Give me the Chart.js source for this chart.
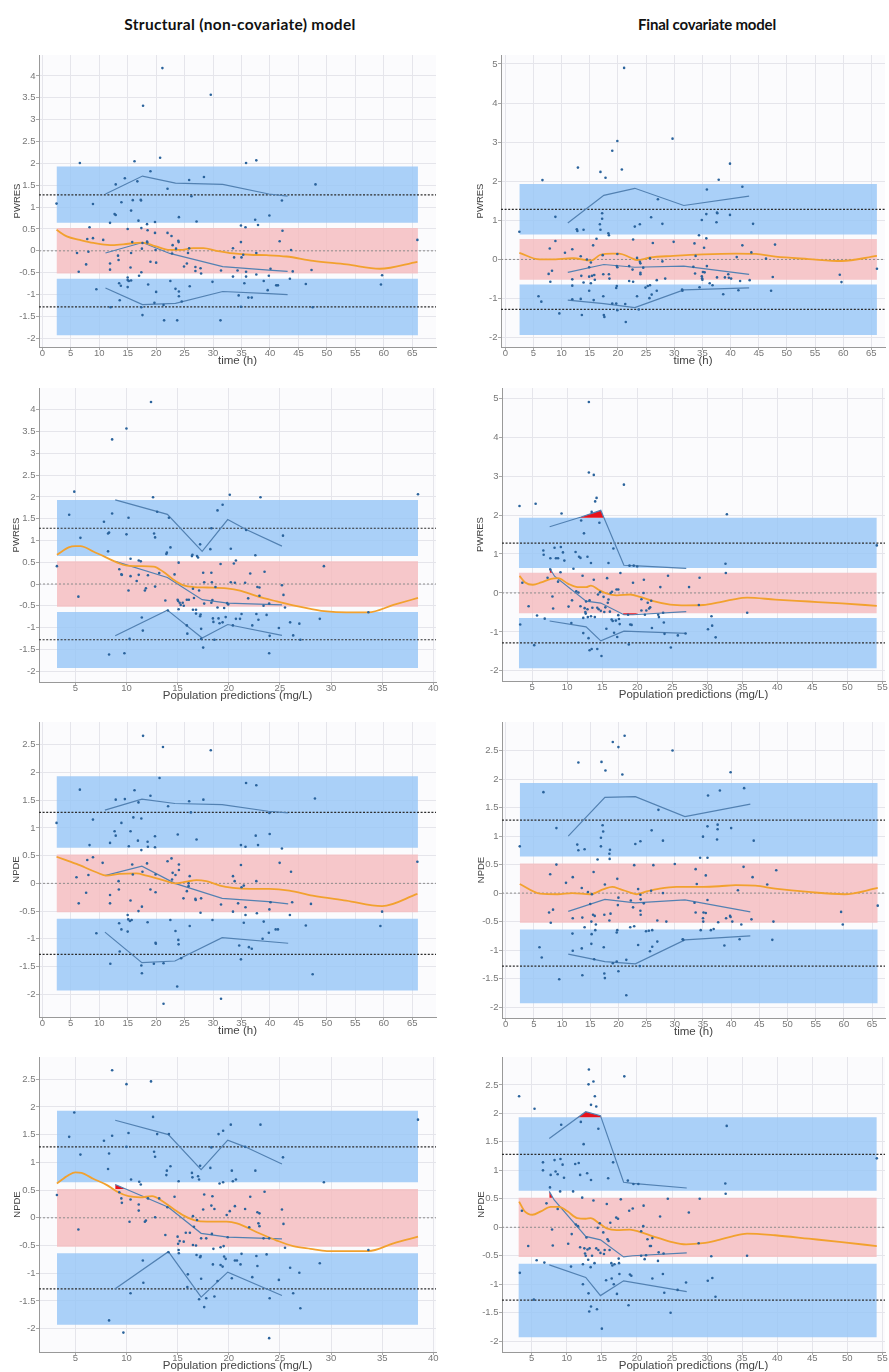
<!DOCTYPE html>
<html><head><meta charset="utf-8">
<script src="https://cdn.jsdelivr.net/npm/chart.js@4.4.1/dist/chart.umd.min.js"></script>
<style>
html,body{margin:0;padding:0;background:#fff;width:889px;height:1372px;overflow:hidden;position:relative;}
.head{position:absolute;top:15px;line-height:18px;font-family:Lato,'Open Sans',sans-serif;font-weight:700;color:#111;transform:translateX(-50%);white-space:nowrap;}
canvas{position:absolute;}
</style></head><body>
<div class="head" style="left:240px;font-size:15.5px;letter-spacing:0.3px">Structural (non-covariate) model</div>
<div class="head" style="left:707px;font-size:15px;letter-spacing:-0.2px">Final covariate model</div>
<canvas id="c1"></canvas><canvas id="c2"></canvas><canvas id="c3"></canvas><canvas id="c4"></canvas>
<canvas id="c5"></canvas><canvas id="c6"></canvas><canvas id="c7"></canvas><canvas id="c8"></canvas>
<script>
// ---------- tick labels ----------
const timeTicks = [0,5,10,15,20,25,30,35,40,45,50,55,60,65];
const predTicksLeft = [5,10,15,20,25,30,35,40];
const predTicksRight = [5,10,15,20,25,30,35,40,45,50,55];
const pwresTicksLeft = [-2,-1.5,-1,-0.5,0,0.5,1,1.5,2,2.5,3,3.5,4];
const pwresTicksRight = [-2,-1,0,1,2,3,4,5];
const npdeTicks = [-2,-1.5,-1,-0.5,0,0.5,1,1.5,2,2.5];

// ---------- prediction intervals (theoretical) ----------
const blueBand = [0.64, 1.93];
const redBand = [-0.52, 0.52];
const piLine = 1.28;
const timeBandX = [2.5, 66.0];
const predBandXLeft = [3.2, 38.5];
const predBandXRight = [3.1, 54.2];

// ---------- Panel 1: PWRES vs time, structural ----------
const p1Pts = [[2.5,1.08],[6.6,2.01],[6.1,-0.05],[6.4,-0.48],[7.7,-0.31],[7.9,0.27],[8.1,-0.02],[8.3,0.54],[8.9,0.29],[8.9,1.07],[9.5,-0.88],[10.7,0.25],[11.9,-0.43],[11.9,-0.29],[11.9,0.64],[12.0,-1.29],[12.7,0.84],[12.9,0.82],[12.9,1.52],[13.3,-0.11],[13.4,-0.21],[13.5,-0.74],[13.6,-1.13],[13.8,-0.8],[13.9,1.11],[14.5,1.66],[15.0,0.5],[15.0,-0.61],[15.0,-0.67],[15.0,-0.83],[15.2,-0.69],[15.5,-0.38],[15.6,-0.05],[15.6,0.92],[15.6,-0.68],[15.9,1.16],[15.8,0.2],[16.2,2.05],[16.7,1.59],[16.9,0.69],[17.0,-0.57],[17.3,1.17],[17.35,1.15],[17.4,0.52],[17.4,-0.49],[17.5,0.05],[17.6,0.18],[17.4,-1.29],[17.6,-1.47],[17.7,3.32],[18.4,0.61],[18.4,0.21],[18.45,0.19],[18.5,0.47],[18.6,-0.77],[19.0,1.82],[19.0,-0.25],[19.8,0.66],[19.8,0.41],[19.9,0.02],[20.0,-0.27],[20.0,-0.94],[19.7,-1.19],[20.7,2.13],[21.1,4.18],[21.3,-1.24],[21.4,-1.59],[22.0,1.42],[22.0,0.41],[22.5,-0.69],[22.7,0.34],[22.8,-0.06],[22.9,0.13],[23.4,-0.87],[23.5,0.05],[23.7,-1.59],[24.0,0.77],[23.9,0.23],[23.95,0.2],[24.0,-0.93],[24.0,-1.04],[24.5,-1.16],[24.9,-0.36],[25.4,-0.29],[25.6,-0.05],[25.8,1.62],[25.8,0.06],[25.9,-0.81],[26.2,1.25],[26.9,-0.37],[26.9,-0.46],[27.1,0.67],[27.8,-0.4],[27.9,-0.52],[28.4,1.69],[29.6,3.57],[29.9,-0.71],[31.3,-1.59],[31.4,-0.45],[33.5,0.06],[33.7,-0.15],[33.5,-0.59],[34.3,-0.45],[34.5,-1.02],[34.9,0.2],[34.9,0.58],[35.0,-0.15],[34.9,-1.28],[35.3,-0.09],[35.5,-0.74],[35.7,0.54],[35.8,-0.48],[35.8,-0.59],[35.8,2.01],[36.2,-1.07],[36.8,-1.07],[37.4,0.71],[37.6,-0.05],[37.6,-0.54],[37.6,2.07],[37.9,0.59],[38.9,-0.69],[39.6,-0.9],[39.8,-0.57],[39.9,0.81],[40.1,-0.41],[41.1,-0.79],[41.4,-0.79],[41.7,0.22],[42.1,1.15],[42.2,0.46],[43.5,-0.64],[43.7,0.02],[44.0,-0.47],[46.3,-0.76],[47.3,-0.44],[47.5,-1.29],[48.0,1.52],[59.5,-0.77],[59.7,-0.56],[65.9,0.25]];
const p1Upper = [[11.1,1.3],[17.6,1.71],[23.4,1.55],[31.7,1.52],[39.8,1.3],[43.1,1.25]];
const p1Mid = [[11.1,-0.05],[17.6,0.19],[22.4,-0.06],[31.7,-0.36],[39.8,-0.44],[43.1,-0.47]];
const p1Low = [[11.1,-0.85],[17.6,-1.23],[23.4,-1.2],[31.7,-0.93],[39.8,-0.98],[43.1,-1.0]];
const p1Smooth = [[2.5,0.48],[4.3,0.33],[6.6,0.25],[9,0.18],[11.9,0.13],[14.2,0.15],[17.6,0.19],[19.8,0.11],[22.4,0.02],[24.2,0.02],[26.5,0.06],[28.3,0.06],[30.6,0.0],[33.6,-0.06],[36.5,-0.09],[39.4,-0.1],[42.9,-0.13],[47.6,-0.23],[53.5,-0.31],[59.3,-0.41],[65.9,-0.25]];

// ---------- Panel 2: PWRES vs time, final ----------
const p2Pts = [[2.5,0.71],[6.6,2.03],[5.9,-0.94],[6.4,-1.08],[7.9,0.28],[7.7,-0.37],[8.0,-0.57],[8.3,-0.29],[8.9,0.47],[8.9,1.09],[9.6,-1.38],[10.6,0.17],[11.9,0.26],[11.9,-0.51],[11.9,-0.67],[11.9,-1.02],[12.7,0.77],[12.8,0.73],[12.9,2.35],[13.4,0.08],[13.4,-1.01],[13.5,-0.42],[13.6,-1.42],[13.9,0.76],[13.9,-0.59],[14.5,0.0],[14.9,-0.2],[14.9,-0.44],[14.9,-0.8],[15.2,-0.08],[15.2,-0.61],[15.4,-0.42],[15.6,0.36],[15.7,-1.04],[15.8,-0.4],[15.9,-0.52],[16.2,0.53],[16.8,0.9],[16.9,0.76],[16.9,2.24],[17.2,1.04],[17.2,1.18],[17.3,0.11],[17.4,-0.38],[17.4,-0.94],[17.5,-1.42],[17.6,-1.47],[17.8,2.09],[18.3,0.67],[18.4,0.62],[18.4,-0.38],[18.5,-0.49],[19.0,2.78],[19.0,-1.13],[19.9,0.14],[19.8,-0.17],[19.9,-0.2],[19.7,-0.73],[19.8,-0.68],[19.7,-1.13],[19.9,-1.3],[19.9,3.03],[20.7,2.3],[21.1,4.9],[21.3,-1.14],[21.4,-1.6],[22.0,-0.17],[22.0,-0.55],[22.6,-0.26],[22.7,0.51],[22.7,-0.57],[23.0,0.84],[23.4,0.04],[23.4,-0.94],[23.7,-1.28],[23.9,0.9],[23.9,-0.06],[24.0,-0.1],[24.0,-0.34],[24.0,-0.38],[24.5,-0.21],[24.9,-0.72],[25.3,-0.68],[25.6,-0.99],[25.7,-0.66],[25.7,0.03],[25.9,1.08],[26.0,-0.9],[26.2,0.42],[26.9,-0.53],[26.9,-0.8],[27.1,1.54],[27.9,0.91],[27.9,-0.05],[28.4,-0.49],[29.7,3.09],[29.9,0.45],[31.4,-0.77],[31.45,-0.8],[33.4,-0.19],[33.6,0.41],[33.7,-0.36],[33.8,0.09],[34.4,0.62],[34.5,-0.71],[34.9,1.01],[34.9,-0.43],[34.95,-0.48],[35.0,-0.52],[35.1,-0.32],[35.3,0.3],[35.4,-0.33],[35.7,1.16],[35.7,0.54],[35.8,-0.17],[35.8,1.79],[36.3,-0.61],[36.8,-0.66],[37.5,0.95],[37.6,1.2],[37.65,1.18],[37.6,-0.46],[37.9,2.04],[38.7,-0.89],[39.0,-0.46],[39.6,-0.38],[39.7,-0.47],[39.9,2.45],[39.9,1.14],[40.1,-0.49],[41.1,0.06],[41.4,-0.79],[41.7,-0.55],[42.1,0.36],[42.1,1.86],[43.4,-0.53],[43.7,0.18],[44.0,0.91],[46.3,0.02],[47.2,-0.8],[47.5,-0.45],[47.9,0.38],[59.4,-0.39],[59.7,-0.58],[66.0,-0.24]];
const p2Upper = [[11.1,0.93],[17.5,1.64],[23.0,1.82],[31.7,1.38],[43.3,1.62]];
const p2Mid = [[11.1,-0.33],[17.5,-0.13],[23.0,-0.2],[31.7,-0.17],[43.3,-0.38]];
const p2Low = [[11.1,-1.04],[17.5,-1.13],[23.0,-1.23],[31.7,-0.78],[43.3,-0.73]];
const p2Smooth = [[2.5,0.17],[6.1,0.0],[8.1,0.0],[12,0.03],[15.2,-0.03],[16.9,0.12],[19,0.15],[20.2,0.15],[22.2,0.05],[23.4,-0.02],[25.7,0.05],[29.8,0.09],[35.1,0.13],[41,0.15],[44.5,0.14],[48,0.07],[53.9,0.01],[59.7,-0.04],[66,0.09]];

// ---------- Panel 3: PWRES vs population predictions, structural ----------
const p3Pts = [[3.2,0.41],[4.4,1.59],[4.9,2.12],[5.3,-0.29],[5.5,1.06],[7.8,1.43],[8.2,1.16],[8.3,1.18],[8.2,0.75],[8.3,-1.62],[8.6,3.32],[8.6,1.62],[9.3,0.34],[9.5,0.22],[9.55,0.21],[9.8,-1.59],[10.0,3.57],[10.0,1.14],[10.2,1.52],[10.2,-0.15],[10.4,0.18],[10.4,0.58],[10.3,-1.26],[11.0,0.07],[11.2,0.21],[11.2,0.54],[11.4,0.52],[11.5,-0.77],[11.6,-1.07],[11.8,-0.15],[11.9,-0.1],[12.1,0.2],[12.4,4.18],[12.6,1.99],[12.7,1.16],[12.8,1.07],[12.8,-0.06],[13.0,1.66],[13.2,0.25],[13.8,-0.38],[13.9,0.69],[13.95,0.72],[14.05,-0.61],[14.15,1.52],[14.3,0.84],[14.7,0.22],[15.1,0.49],[15.0,-0.36],[15.05,-0.39],[15.1,-0.58],[15.2,-0.43],[15.3,-0.48],[15.5,-0.43],[15.6,-0.5],[15.9,-0.36],[15.9,-0.95],[15.95,-1.14],[16.1,-0.36],[16.4,0.64],[16.45,0.67],[16.5,-0.11],[16.5,-0.59],[16.6,-0.32],[16.8,-0.59],[16.8,-0.68],[16.9,0.64],[17.0,0.61],[17.1,-0.15],[17.2,0.91],[17.2,-0.74],[17.25,-0.7],[17.3,-1.03],[17.3,-1.26],[17.5,-1.46],[17.5,0.26],[17.6,0.04],[17.6,-0.45],[18.2,0.8],[18.3,1.28],[18.3,0.26],[18.35,0.04],[18.3,-0.43],[18.4,-0.37],[18.45,-0.79],[18.5,-0.87],[18.7,-0.07],[18.6,-1.28],[18.9,-0.54],[18.9,1.69],[19.0,-0.79],[19.1,-0.9],[19.2,0.46],[19.4,-0.88],[19.4,1.82],[19.55,-0.55],[19.7,-0.76],[19.85,-0.44],[19.95,-0.47],[20.1,2.05],[20.2,0.81],[20.2,0.04],[20.4,-0.95],[20.5,0.47],[20.6,0.03],[20.7,-0.8],[20.7,0.54],[21.1,-0.8],[21.25,-0.69],[21.6,0.03],[21.7,1.24],[21.9,-0.33],[22.1,0.24],[22.3,-0.95],[22.6,0.66],[22.7,-0.69],[22.8,-0.07],[22.9,-0.82],[23.0,-0.08],[23.0,-0.27],[23.1,1.99],[23.4,-0.5],[23.5,0.28],[23.7,-0.71],[23.95,-0.45],[23.95,-1.59],[24.0,-1.19],[24.9,-1.01],[25.2,-0.03],[25.3,1.11],[25.35,-0.25],[25.5,-0.54],[26.0,-0.88],[26.3,-1.18],[26.9,-0.91],[27.0,-1.28],[28.9,-0.8],[29.3,0.41],[33.65,-0.65],[38.5,2.06]];
const p3Upper = [[8.9,1.93],[14.0,1.6],[17.4,0.75],[19.9,1.48],[21.7,1.25],[25.2,0.87]];
const p3Mid = [[8.9,0.52],[14.0,0.15],[17.4,-0.36],[19.9,-0.44],[25.2,-0.48]];
const p3Low = [[8.9,-1.19],[14.0,-0.6],[17.4,-1.24],[19.9,-0.93],[25.2,-1.18]];
const p3Smooth = [[3.2,0.67],[4.35,0.84],[5.0,0.87],[5.5,0.87],[6.8,0.74],[8.1,0.6],[9.1,0.49],[10.05,0.42],[11.35,0.41],[12.65,0.4],[13.6,0.28],[14.6,0.1],[15.6,-0.03],[16.6,-0.07],[17.9,-0.08],[19.8,-0.1],[21.1,-0.15],[22.75,-0.28],[24.7,-0.4],[26.3,-0.49],[28,-0.57],[29.6,-0.63],[31.5,-0.65],[33.65,-0.65],[36.1,-0.48],[38.5,-0.32]];

// ---------- Panel 4: PWRES vs population predictions, final ----------
const p4Pts = [[3.2,2.23],[3.3,-0.81],[3.6,0.26],[4.5,-0.34],[5.3,-1.34],[5.5,2.29],[5.7,-0.58],[6.6,1.09],[6.65,0.98],[6.8,-0.66],[7.2,0.39],[7.6,0.89],[7.6,0.6],[7.9,-0.09],[8.0,-0.4],[8.2,1.16],[8.4,0.89],[8.7,0.89],[8.7,0.29],[9.1,1.18],[9.05,0.53],[9.2,2.04],[9.4,1.04],[9.6,0.83],[10.2,-0.35],[10.6,-0.77],[10.7,-0.19],[10.9,0.62],[11.2,1.05],[11.3,0.04],[11.6,0.01],[11.7,0.93],[11.9,0.9],[11.9,-0.34],[12.0,1.86],[12.2,0.44],[12.3,-1.03],[12.3,-0.64],[12.4,1.53],[12.5,-0.39],[12.6,-0.49],[12.65,-0.53],[12.7,-0.22],[12.9,0.93],[12.9,-0.42],[12.95,-0.62],[13.05,-1.16],[13.1,3.09],[13.1,4.9],[13.2,-1.47],[13.2,-0.19],[13.4,-0.6],[13.4,0.77],[13.5,-1.44],[13.5,2.08],[13.6,-0.38],[13.8,0.34],[13.8,3.03],[13.95,-0.62],[14.0,2.35],[14.2,2.44],[14.3,-0.38],[14.3,-1.44],[14.4,-0.04],[14.5,-0.42],[14.6,1.8],[14.7,0.02],[14.8,-0.46],[14.9,-1.62],[15.2,-0.1],[15.3,-0.49],[15.45,-0.37],[15.6,-0.92],[15.7,0.38],[15.8,-0.25],[15.9,0.77],[15.9,-0.17],[16.1,-0.48],[16.2,0.0],[16.35,-0.68],[16.4,0.03],[16.5,-0.72],[16.6,1.14],[16.7,-1.02],[16.95,-0.71],[17.05,0.09],[17.15,-1.13],[17.3,0.09],[17.3,-0.57],[17.4,-0.67],[17.5,-0.8],[17.6,0.51],[18.1,2.78],[18.7,-0.56],[18.8,-1.32],[18.9,0.7],[19.0,-0.81],[19.2,-0.82],[19.4,0.26],[19.5,0.7],[20.0,0.68],[20.6,-0.16],[20.6,-0.45],[20.9,0.0],[20.95,0.34],[21.1,-0.56],[21.3,-0.45],[21.5,-0.25],[21.7,-0.4],[21.85,-0.37],[22.0,-0.2],[22.1,-0.9],[23.0,-0.56],[23.1,-0.62],[23.3,0.15],[23.7,-0.51],[23.8,-0.76],[23.9,-1.05],[24.4,0.44],[24.8,-1.4],[25.8,-1.09],[26.9,-1.04],[27.4,0.15],[28.8,-0.31],[28.9,0.39],[30.1,-0.93],[30.6,-0.6],[30.7,-0.84],[31.2,-1.14],[32.6,0.75],[32.65,0.51],[32.8,2.02],[35.7,-0.51],[54.2,1.22]];
const p4Upper = [[7.5,1.7],[12.0,1.95],[14.8,2.12],[18.1,0.71],[19.4,0.7],[27.0,0.63]];
const p4Mid = [[7.5,0.64],[8.2,0.43],[12.7,-0.21],[14.8,-0.26],[18.1,-0.56],[19.4,-0.56],[27.0,-0.48]];
const p4Low = [[7.5,-0.72],[12.7,-0.87],[14.8,-1.23],[18.1,-0.98],[27.0,-1.04]];
const p4Smooth = [[3.2,0.44],[4.0,0.27],[5.1,0.21],[6.3,0.27],[7.7,0.36],[8.7,0.38],[10.1,0.24],[11.5,0.15],[12.7,0.15],[13.4,0.19],[14.6,0.07],[15.7,-0.02],[17.1,-0.06],[19.0,-0.04],[20.4,-0.1],[22.3,-0.21],[24.7,-0.3],[27.0,-0.32],[29.4,-0.31],[31.7,-0.24],[33.6,-0.17],[35.7,-0.12],[39.7,-0.17],[44.5,-0.22],[49.2,-0.27],[54.2,-0.33]];
const p4RedTop = [[11.64,1.93],[12.0,1.95],[14.8,2.12],[15.24,1.93]];
const p4RedMid = [[7.5,0.64],[7.9,0.52]];
const p4RedLow = [[17.95,-0.52],[18.1,-0.56],[19.4,-0.56],[20.2,-0.52]];

// ---------- Panel 5: NPDE vs time, structural ----------
const p5Pts = [[2.5,1.09],[6.6,1.69],[6.0,0.11],[6.4,-0.36],[7.7,-0.17],[7.9,0.42],[8.1,0.15],[8.3,0.69],[8.9,0.47],[8.9,1.15],[9.5,-0.9],[10.6,0.37],[11.9,-0.36],[11.9,-0.21],[11.9,0.73],[11.95,-1.45],[12.7,0.94],[12.9,0.86],[12.9,1.51],[13.4,0.04],[13.45,-0.11],[13.5,-0.72],[13.6,-1.23],[13.9,-0.83],[13.9,1.09],[14.5,1.52],[15.0,-0.57],[15.1,-0.65],[15.0,-0.87],[15.2,0.67],[15.4,-0.68],[15.5,-0.31],[15.5,0.94],[15.7,-0.66],[15.9,0.16],[15.8,0.34],[16.0,1.19],[16.2,1.68],[16.8,0.77],[16.9,1.46],[16.9,-0.5],[17.4,1.17],[17.4,0.6],[17.5,-0.42],[17.6,0.21],[17.4,-1.48],[17.5,-1.62],[17.7,2.66],[18.4,0.36],[18.5,0.75],[18.55,0.66],[18.5,-0.7],[19.0,1.58],[19.0,-0.11],[19.8,0.85],[19.8,0.65],[19.9,0.16],[19.9,-0.16],[19.9,-1.07],[19.95,-1.09],[19.6,-1.45],[20.6,1.9],[21.2,2.46],[21.3,-1.44],[21.3,-2.17],[22.1,1.39],[22.0,0.4],[22.5,-0.66],[22.7,0.45],[22.9,0.19],[22.8,0.07],[23.4,0.15],[23.4,-0.86],[23.7,-1.86],[23.8,0.88],[24.0,0.34],[24.0,0.24],[23.9,-1.02],[23.95,-1.1],[24.4,-1.35],[24.8,-0.27],[25.4,-0.14],[25.7,-0.05],[25.7,0.0],[25.9,0.13],[25.9,-0.77],[26.1,1.28],[25.8,1.48],[26.9,-0.28],[26.95,-0.3],[27.1,0.79],[27.8,-0.53],[27.9,-0.27],[28.3,1.51],[29.6,2.4],[29.9,-0.66],[31.4,-2.08],[31.4,-0.38],[33.5,0.13],[33.8,0.04],[33.5,-0.51],[34.4,-0.36],[34.6,-1.12],[34.9,0.33],[34.9,0.69],[35.0,-0.07],[34.9,-1.37],[35.4,-0.04],[35.4,-0.71],[35.7,0.66],[35.7,-0.43],[35.7,-0.57],[35.8,1.81],[36.3,-1.15],[36.8,-1.18],[37.5,0.86],[37.6,0.04],[37.7,-0.54],[37.6,1.77],[37.9,0.69],[38.9,-0.69],[38.7,-1.0],[39.8,-0.89],[39.9,-0.47],[39.9,1.27],[39.95,0.89],[40.1,-0.34],[41.0,-0.83],[41.4,-0.83],[41.7,0.37],[42.1,0.63],[43.5,-0.57],[43.7,0.21],[43.9,-0.34],[46.3,-0.76],[47.2,-0.37],[47.5,-1.64],[47.9,1.53],[59.4,-0.77],[59.7,-0.51],[65.9,0.39]];
const p5Upper = [[11.0,1.32],[17.5,1.52],[23.3,1.44],[31.6,1.42],[39.7,1.3],[43.2,1.27]];
const p5Mid = [[11.0,0.14],[17.5,0.31],[23.3,0.0],[31.6,-0.27],[39.7,-0.33],[43.2,-0.37]];
const p5Low = [[11.0,-0.88],[17.5,-1.43],[23.3,-1.4],[31.6,-0.98],[43.2,-1.08]];
const p5Smooth = [[2.5,0.48],[6.0,0.35],[9.5,0.2],[11.3,0.14],[13.6,0.17],[16.5,0.18],[18.3,0.14],[21.2,0.06],[23.3,0.0],[25.3,0.03],[27.1,0.06],[28.8,0.04],[31.2,-0.04],[33.5,-0.08],[36.4,-0.1],[39.9,-0.1],[43.4,-0.13],[47.5,-0.22],[53.4,-0.31],[59.7,-0.41],[65.9,-0.19]];

// ---------- Panel 6: NPDE vs time, final ----------
const p6Pts = [[2.5,0.82],[6.7,1.77],[6.0,-0.95],[6.4,-1.13],[7.7,-0.34],[7.9,0.33],[8.0,-0.52],[8.4,-0.29],[9.0,1.14],[9.0,0.5],[9.5,-1.51],[10.7,0.18],[11.9,0.28],[11.9,-0.44],[11.85,-0.71],[11.9,-1.01],[12.7,0.85],[12.9,0.75],[12.9,2.29],[13.5,0.09],[13.5,-0.97],[13.6,-0.43],[13.6,-1.44],[14.0,0.77],[14.0,-0.6],[14.6,0.02],[15.0,-0.19],[15.2,-0.5],[15.2,-0.89],[15.3,-0.02],[15.25,-0.72],[15.5,-0.38],[15.6,0.37],[15.7,-1.16],[15.8,-0.4],[15.9,-0.65],[16.0,-0.55],[16.3,0.59],[16.9,0.82],[16.9,0.97],[17.0,2.3],[17.2,1.19],[17.3,1.08],[17.6,0.15],[17.5,-0.38],[17.4,-0.95],[17.5,-1.41],[17.6,-1.49],[17.7,2.15],[18.4,0.69],[18.45,0.6],[18.5,0.76],[18.6,-0.36],[18.4,-0.48],[19.0,2.65],[19.0,-1.23],[19.8,0.25],[20.0,-0.08],[19.9,-0.21],[19.7,-0.69],[19.8,-0.65],[19.7,-1.2],[20.0,-1.37],[20.0,2.56],[20.7,2.08],[21.1,2.76],[21.4,-1.17],[21.4,-1.79],[22.1,-0.6],[22.2,-0.13],[22.6,-0.25],[22.8,0.49],[22.8,-0.58],[23.0,0.86],[23.5,0.07],[23.5,-0.91],[23.8,-1.28],[23.9,0.91],[23.9,-0.03],[23.95,-0.11],[23.9,-0.31],[23.95,-0.38],[24.5,-0.18],[24.9,-0.67],[25.4,-0.66],[25.6,-1.02],[25.8,0.04],[25.9,1.1],[26.0,-0.65],[26.0,-0.94],[26.2,0.49],[26.9,-0.48],[26.9,-0.85],[27.1,1.46],[27.9,0.92],[27.9,0.0],[28.5,-0.5],[29.6,2.5],[30.0,0.51],[31.4,-0.81],[31.5,-0.82],[33.5,-0.17],[33.7,0.42],[33.7,-0.34],[33.9,0.16],[34.5,0.62],[34.6,-0.65],[35.0,0.99],[35.0,-0.44],[35.05,-0.5],[35.1,-0.34],[35.5,0.31],[35.5,-0.35],[35.8,1.17],[35.8,0.62],[35.8,-0.12],[35.9,1.71],[36.4,-0.65],[36.9,-0.63],[37.5,0.94],[37.6,1.2],[37.6,1.12],[37.7,-0.51],[38.0,1.8],[38.8,-0.92],[39.1,-0.44],[39.8,-0.4],[39.9,-0.42],[39.9,2.12],[40.0,1.14],[40.2,-0.5],[41.2,0.05],[41.5,-0.81],[41.8,-0.55],[42.2,0.46],[42.3,1.84],[43.6,-0.46],[43.8,0.28],[44.0,0.92],[46.4,0.15],[47.3,-0.82],[47.5,-0.5],[48.0,0.4],[59.5,-0.33],[59.8,-0.55],[66.0,-0.22]];
const p6Upper = [[11.1,1.0],[17.6,1.68],[23.0,1.69],[31.8,1.34],[43.4,1.56]];
const p6Mid = [[11.1,-0.32],[17.6,-0.11],[23.0,-0.17],[31.8,-0.12],[43.4,-0.33]];
const p6Low = [[11.1,-1.07],[17.6,-1.2],[23.0,-1.24],[31.8,-0.82],[43.4,-0.75]];
const p6Smooth = [[2.5,0.16],[6.1,-0.01],[9.2,-0.02],[11.8,0.0],[15.0,-0.02],[17.4,0.07],[18.9,0.11],[20.3,0.07],[22.1,0.01],[23.2,-0.02],[25.0,0.03],[27.3,0.08],[30.3,0.11],[35.0,0.11],[37.9,0.12],[40.8,0.14],[44.3,0.13],[47.8,0.08],[53.7,0.02],[60.1,-0.02],[66.0,0.09]];

// ---------- Panel 7: NPDE vs population predictions, structural ----------
const p7Pts = [[3.2,0.41],[4.4,1.46],[4.9,1.9],[5.3,-0.21],[5.5,1.14],[7.8,1.39],[8.3,1.16],[8.2,0.88],[8.3,-1.85],[8.6,2.66],[8.6,1.48],[9.3,0.46],[9.5,0.35],[9.55,0.27],[9.7,-2.07],[10.0,2.41],[10.0,1.28],[10.2,1.53],[10.3,-0.07],[10.4,0.33],[10.45,0.69],[10.4,-1.36],[11.2,0.24],[11.2,0.13],[11.25,0.65],[11.4,0.6],[11.6,-0.77],[11.65,-1.17],[11.8,-0.07],[11.9,-0.05],[12.1,0.35],[12.4,2.46],[12.6,1.82],[12.7,1.19],[12.8,1.1],[12.8,0.01],[13.0,1.51],[13.2,0.35],[13.8,-0.31],[13.9,0.77],[13.95,0.85],[14.0,0.19],[14.1,-0.62],[14.15,1.51],[14.3,0.93],[14.7,0.38],[15.1,0.66],[15.0,-0.34],[15.05,-0.47],[15.1,-0.58],[15.12,-0.64],[15.2,-0.42],[15.6,-0.43],[15.8,-0.27],[16.0,-1.02],[15.95,-1.25],[16.2,-0.27],[16.4,0.81],[16.45,0.73],[16.5,0.03],[16.5,-0.49],[16.6,-0.16],[16.8,-0.5],[16.85,-0.67],[16.9,-0.04],[17.0,0.75],[17.1,0.69],[17.1,-1.47],[17.2,0.94],[17.2,-0.71],[17.25,-0.69],[17.3,-1.1],[17.5,0.15],[17.3,-0.37],[17.6,-1.61],[17.6,0.42],[17.8,-1.45],[17.8,-0.37],[18.2,0.9],[18.3,1.27],[18.3,0.22],[18.35,-0.29],[18.4,0.39],[18.45,-0.84],[18.5,-0.56],[18.6,0.16],[18.6,-1.42],[18.9,-1.14],[19.0,1.51],[19.1,0.62],[19.2,-0.85],[19.2,-0.53],[19.4,-0.88],[19.45,0.64],[19.45,1.57],[19.5,-0.51],[19.55,-0.7],[19.7,-0.74],[19.8,0.05],[19.9,-0.35],[20.1,0.12],[20.2,1.68],[20.3,0.85],[20.3,-1.09],[20.4,0.66],[20.6,-0.77],[20.6,0.21],[20.7,0.69],[20.8,-0.77],[21.15,-0.84],[21.25,-0.65],[21.6,0.16],[21.6,1.28],[22.0,-0.17],[22.1,0.38],[22.3,-1.07],[22.6,0.85],[22.7,-0.69],[22.8,0.1],[22.8,-0.87],[22.9,-0.1],[23.0,0.08],[23.0,-0.15],[23.1,1.68],[23.4,-0.37],[23.5,0.47],[23.7,-0.66],[23.95,-0.37],[24.0,-1.45],[23.95,-2.17],[24.9,-1.12],[25.2,0.15],[25.35,-0.11],[25.3,1.09],[25.5,-0.54],[26.0,-0.9],[26.3,-1.36],[26.9,-0.99],[27.0,-1.63],[28.9,-0.82],[29.3,0.64],[33.65,-0.58],[38.5,1.77]];
const p7Upper = [[8.9,1.76],[14.1,1.5],[17.3,0.87],[19.9,1.4],[21.6,1.28],[25.2,0.97]];
const p7Mid = [[8.9,0.6],[14.1,0.19],[17.3,-0.28],[19.9,-0.35],[25.2,-0.38]];
const p7Low = [[8.9,-1.28],[14.1,-0.61],[17.3,-1.43],[19.9,-0.98],[25.2,-1.4]];
const p7Smooth = [[3.2,0.62],[4.35,0.77],[5.0,0.82],[5.6,0.81],[6.8,0.7],[8.1,0.59],[9.1,0.47],[10.2,0.39],[11.35,0.37],[12.5,0.39],[13.6,0.29],[14.6,0.16],[15.6,0.04],[16.6,-0.04],[17.9,-0.07],[19.8,-0.07],[20.8,-0.1],[22.75,-0.26],[24.7,-0.41],[26.3,-0.51],[28,-0.56],[29.6,-0.6],[31.5,-0.6],[33.65,-0.6],[36.1,-0.46],[38.5,-0.34]];
const p7RedMid = [[8.9,0.6],[9.9,0.52]];

// ---------- Panel 8: NPDE vs population predictions, final ----------
const p8Pts = [[3.2,2.3],[3.3,-0.8],[3.6,0.29],[4.5,-0.33],[5.3,-1.27],[5.4,2.08],[5.7,-0.58],[6.6,1.14],[6.6,1.0],[6.8,-0.62],[7.1,0.42],[7.6,0.7],[7.7,0.92],[7.9,-0.04],[8.0,-0.32],[8.25,1.18],[8.4,0.98],[8.7,0.93],[8.7,0.32],[9.05,0.63],[9.1,1.2],[9.2,1.8],[9.4,1.1],[9.6,0.87],[10.2,-0.29],[10.6,-0.69],[10.7,-0.12],[10.9,0.63],[11.2,1.11],[11.3,0.05],[11.6,0.02],[11.7,1.13],[11.9,0.92],[11.9,-0.35],[12.0,1.85],[12.2,0.52],[12.3,-1.0],[12.3,-0.65],[12.4,1.46],[12.5,-0.37],[12.6,-0.46],[12.7,-0.5],[12.8,-0.18],[12.9,0.95],[12.95,-0.39],[13.05,-0.57],[13.1,-1.16],[13.15,2.77],[13.1,2.51],[13.2,-1.48],[13.25,-0.37],[13.4,-0.7],[13.45,0.83],[13.45,-1.39],[13.45,2.15],[13.6,-0.5],[13.8,0.47],[13.8,2.56],[13.95,-0.63],[14.0,2.3],[14.2,2.12],[14.2,-0.37],[14.3,-1.44],[14.4,-0.01],[14.5,-0.4],[14.5,1.73],[14.7,0.07],[14.8,-0.45],[15.0,-1.78],[15.2,-0.09],[15.3,-0.47],[15.4,-0.4],[15.6,-0.93],[15.7,0.41],[15.8,-0.21],[15.9,0.86],[15.95,-0.24],[16.1,-0.4],[16.2,0.08],[16.35,-0.63],[16.4,-0.9],[16.5,-0.67],[16.6,1.14],[16.7,-1.0],[16.8,-0.65],[17.05,0.17],[17.15,-1.17],[17.3,0.15],[17.4,-0.55],[17.45,-0.63],[17.5,-0.82],[17.7,0.49],[18.2,2.65],[18.7,0.82],[18.8,-1.37],[18.9,0.29],[19.0,-0.83],[19.2,-0.85],[19.4,0.33],[19.5,0.76],[20.2,0.76],[20.6,-0.07],[20.6,-0.5],[20.95,0.38],[20.9,0.02],[21.1,-0.56],[21.3,-0.49],[21.5,-0.21],[21.85,-0.33],[22.0,-0.33],[22.2,-0.19],[22.2,-0.9],[23.0,-0.59],[23.1,-0.44],[23.3,0.19],[23.7,-0.82],[23.8,-0.46],[23.9,-1.15],[24.4,0.5],[24.8,-1.5],[25.8,-1.1],[27.0,-0.97],[27.4,0.26],[28.8,-0.28],[28.95,0.5],[30.1,-0.94],[30.6,-0.51],[30.75,-0.89],[31.2,-1.22],[32.6,0.77],[32.65,0.59],[32.8,1.78],[35.7,-0.5],[54.2,1.21]];
const p8Upper = [[7.5,1.56],[12.7,2.03],[14.8,1.96],[18.1,0.79],[19.4,0.77],[27.1,0.69]];
const p8Mid = [[7.5,0.63],[8.2,0.48],[12.7,-0.16],[14.8,-0.22],[18.1,-0.52],[19.4,-0.5],[27.1,-0.45]];
const p8Low = [[7.5,-0.66],[12.7,-0.88],[14.8,-1.2],[18.1,-0.94],[27.1,-1.13]];
const p8Smooth = [[3.2,0.45],[4.0,0.28],[5.1,0.22],[6.3,0.28],[7.7,0.36],[8.9,0.36],[10.1,0.28],[11.5,0.16],[12.7,0.15],[13.4,0.16],[14.6,0.07],[15.7,-0.02],[17.1,-0.05],[19.0,-0.04],[20.4,-0.08],[22.3,-0.16],[24.7,-0.25],[27.0,-0.3],[29.4,-0.28],[31.7,-0.22],[33.6,-0.16],[35.7,-0.11],[39.7,-0.14],[44.5,-0.2],[49.2,-0.26],[54.2,-0.33]];
const p8RedTop = [[11.6,1.93],[12.7,2.03],[14.8,1.96],[14.88,1.93]];
const p8RedMid = [[7.5,0.63],[8.0,0.52]];

// ---------- styling / layout ----------
const BLUE = 'rgba(150,198,246,0.8)';
const PINK = 'rgba(245,186,189,0.8)';
const PT = '#2a639c';
const PCT = '#5281b2';
const ORANGE = '#f2a12e';
const RED = '#e8121b';
const FONT = "'Liberation Sans', Arial, sans-serif";

const panels = [
  {id:'c1',left:0,top:50,w:444,h:321,yW:39,padR:8,xr:[-0.58,69.17],yr:[-2.2,4.48],xt:timeTicks,yt:pwresTicksLeft,xTitle:'time (h)',yTitle:'PWRES',yPad:11.3,band:timeBandX,pts:p1Pts,up:p1Upper,mid:p1Mid,low:p1Low,sm:p1Smooth,reds:[]},
  {id:'c2',left:445,top:50,w:444,h:321,yW:56,padR:0,xr:[-0.76,67.43],yr:[-2.24,5.23],xt:timeTicks,yt:pwresTicksRight,xTitle:'time (h)',yTitle:'PWRES',yPad:29.3,band:timeBandX,pts:p2Pts,up:p2Upper,mid:p2Mid,low:p2Low,sm:p2Smooth,reds:[]},
  {id:'c3',left:0,top:383,w:444,h:323,yW:39,padR:8,xr:[1.45,40.26],yr:[-2.25,4.5],xt:predTicksLeft,yt:pwresTicksLeft,xTitle:'Population predictions (mg/L)',yTitle:'PWRES',yPad:11,band:predBandXLeft,pts:p3Pts,up:p3Upper,mid:p3Mid,low:p3Low,sm:p3Smooth,reds:[]},
  {id:'c4',left:445,top:383,w:444,h:322,yW:57,padR:0,xr:[0.7,55.37],yr:[-2.26,5.26],xt:predTicksRight,yt:pwresTicksRight,xTitle:'Population predictions (mg/L)',yTitle:'PWRES',yPad:29.3,band:predBandXRight,pts:p4Pts,up:p4Upper,mid:p4Mid,low:p4Low,sm:p4Smooth,reds:[[p4RedTop,1.93],[p4RedMid,0.52],[p4RedLow,-0.52]]},
  {id:'c5',left:0,top:717,w:444,h:324,yW:39,padR:8,xr:[-0.58,69.17],yr:[-2.41,2.91],xt:timeTicks,yt:npdeTicks,xTitle:'time (h)',yTitle:'NPDE',yPad:11,band:timeBandX,pts:p5Pts,up:p5Upper,mid:p5Mid,low:p5Low,sm:p5Smooth,reds:[]},
  {id:'c6',left:445,top:717,w:444,h:325,yW:57,padR:0,xr:[-0.65,67.29],yr:[-2.19,3.0],xt:timeTicks,yt:npdeTicks,xTitle:'time (h)',yTitle:'NPDE',yPad:30.3,band:timeBandX,pts:p6Pts,up:p6Upper,mid:p6Mid,low:p6Low,sm:p6Smooth,reds:[]},
  {id:'c7',left:0,top:1052,w:444,h:324,yW:39,padR:8,xr:[1.45,40.26],yr:[-2.42,2.9],xt:predTicksLeft,yt:npdeTicks,xTitle:'Population predictions (mg/L)',yTitle:'NPDE',yPad:11.6,band:predBandXLeft,pts:p7Pts,up:p7Upper,mid:p7Mid,low:p7Low,sm:p7Smooth,reds:[[p7RedMid,0.52]]},
  {id:'c8',left:445,top:1052,w:444,h:324,yW:57,padR:0,xr:[0.76,55.37],yr:[-2.19,2.99],xt:predTicksRight,yt:npdeTicks,xTitle:'Population predictions (mg/L)',yTitle:'NPDE',yPad:30.3,band:predBandXRight,pts:p8Pts,up:p8Upper,mid:p8Mid,low:p8Low,sm:p8Smooth,reds:[[p8RedTop,1.93],[p8RedMid,0.52]]}
];

const toXY = a => a.map(p => ({x:p[0], y:p[1]}));
function lineDs(arr, color, width, order, extra) {
  return Object.assign({type:'line', data:toXY(arr), borderColor:color, borderWidth:width, pointRadius:0, fill:false, tension:0, order:order}, extra||{});
}
function bandDs(bx, top, bottom, color) {
  return {type:'line', data:toXY([[bx[0],top],[bx[1],top]]), borderColor:'rgba(0,0,0,0)', borderWidth:1, pointRadius:0, fill:{value:bottom}, backgroundColor:color, order:20};
}

const plotBg = {
  id:'plotBg',
  beforeDraw(chart) {
    const a = chart.chartArea, c = chart.ctx;
    c.save(); c.fillStyle = '#fbfbfd'; c.fillRect(a.left, a.top, a.right-a.left, a.bottom-a.top); c.restore();
  }
};

panels.forEach(s => {
  const cv = document.getElementById(s.id);
  cv.width = s.w; cv.height = s.h;
  cv.style.left = s.left+'px'; cv.style.top = s.top+'px';
  cv.style.width = s.w+'px'; cv.style.height = s.h+'px';
  const ds = [];
  ds.push({type:'line', data:toXY(s.pts), showLine:false, pointRadius:1.3, pointBackgroundColor:PT, pointBorderWidth:0, pointBorderColor:PT, order:1});
  ds.push(lineDs(s.sm, ORANGE, 1.8, 2, {cubicInterpolationMode:'monotone'}));
  ds.push(lineDs(s.up, PCT, 1.2, 3));
  ds.push(lineDs(s.mid, PCT, 1.2, 3));
  ds.push(lineDs(s.low, PCT, 1.2, 3));
  s.reds.forEach(r => ds.push(lineDs(r[0], 'rgba(0,0,0,0)', 1, 4, {fill:{value:r[1]}, backgroundColor:RED})));
  ds.push(lineDs([[s.xr[0],piLine],[s.xr[1],piLine]], '#2b2b2b', 1.2, 6, {borderDash:[2,1.6]}));
  ds.push(lineDs([[s.xr[0],-piLine],[s.xr[1],-piLine]], '#2b2b2b', 1.2, 6, {borderDash:[2,1.6]}));
  ds.push(lineDs([[s.xr[0],0],[s.xr[1],0]], '#8d8d8d', 1, 6, {borderDash:[2,2]}));
  ds.push(bandDs(s.band, blueBand[1], blueBand[0], BLUE));
  ds.push(bandDs(s.band, -blueBand[0], -blueBand[1], BLUE));
  ds.push(bandDs(s.band, redBand[1], redBand[0], PINK));

  new Chart(cv, {
    type:'line',
    data:{datasets:ds},
    plugins:[plotBg],
    options:{
      responsive:false, animation:false, events:[],
      devicePixelRatio:1,
      layout:{padding:{top:5,right:s.padR,left:0,bottom:0}},
      plugins:{legend:{display:false}, tooltip:{enabled:false}},
      scales:{
        x:{type:'linear', min:s.xr[0], max:s.xr[1],
          afterBuildTicks: sc => { sc.ticks = s.xt.map(v => ({value:v})); },
          afterFit: sc => { sc.height = 24; sc.paddingLeft = 0; sc.paddingRight = 0; },
          ticks:{autoSkip:false, maxRotation:0, padding:-2, color:'#777', font:{family:FONT, size:9.5}, callback:v => String(v)},
          grid:{color:'#e5e5eb', tickLength:3, tickColor:'#aaa'},
          border:{display:true, color:'#999'},
          title:{display:true, text:s.xTitle, color:'#444', font:{family:FONT, size:11.5}, padding:{top:0,bottom:3}}
        },
        y:{type:'linear', min:s.yr[0], max:s.yr[1],
          afterBuildTicks: sc => { sc.ticks = s.yt.map(v => ({value:v})); },
          afterFit: sc => { sc.width = s.yW; sc.paddingTop = 0; sc.paddingBottom = 0; },
          ticks:{autoSkip:false, padding:0.5, color:'#777', font:{family:FONT, size:9.5}, callback:v => String(v)},
          grid:{color:'#e5e5eb', tickLength:3, tickColor:'#aaa'},
          border:{display:true, color:'#999'},
          title:{display:true, text:s.yTitle, color:'#444', font:{family:FONT, size:9.5}, padding:{top:s.yPad,bottom:0}}
        }
      }
    }
  });
});
</script>
</body></html>
